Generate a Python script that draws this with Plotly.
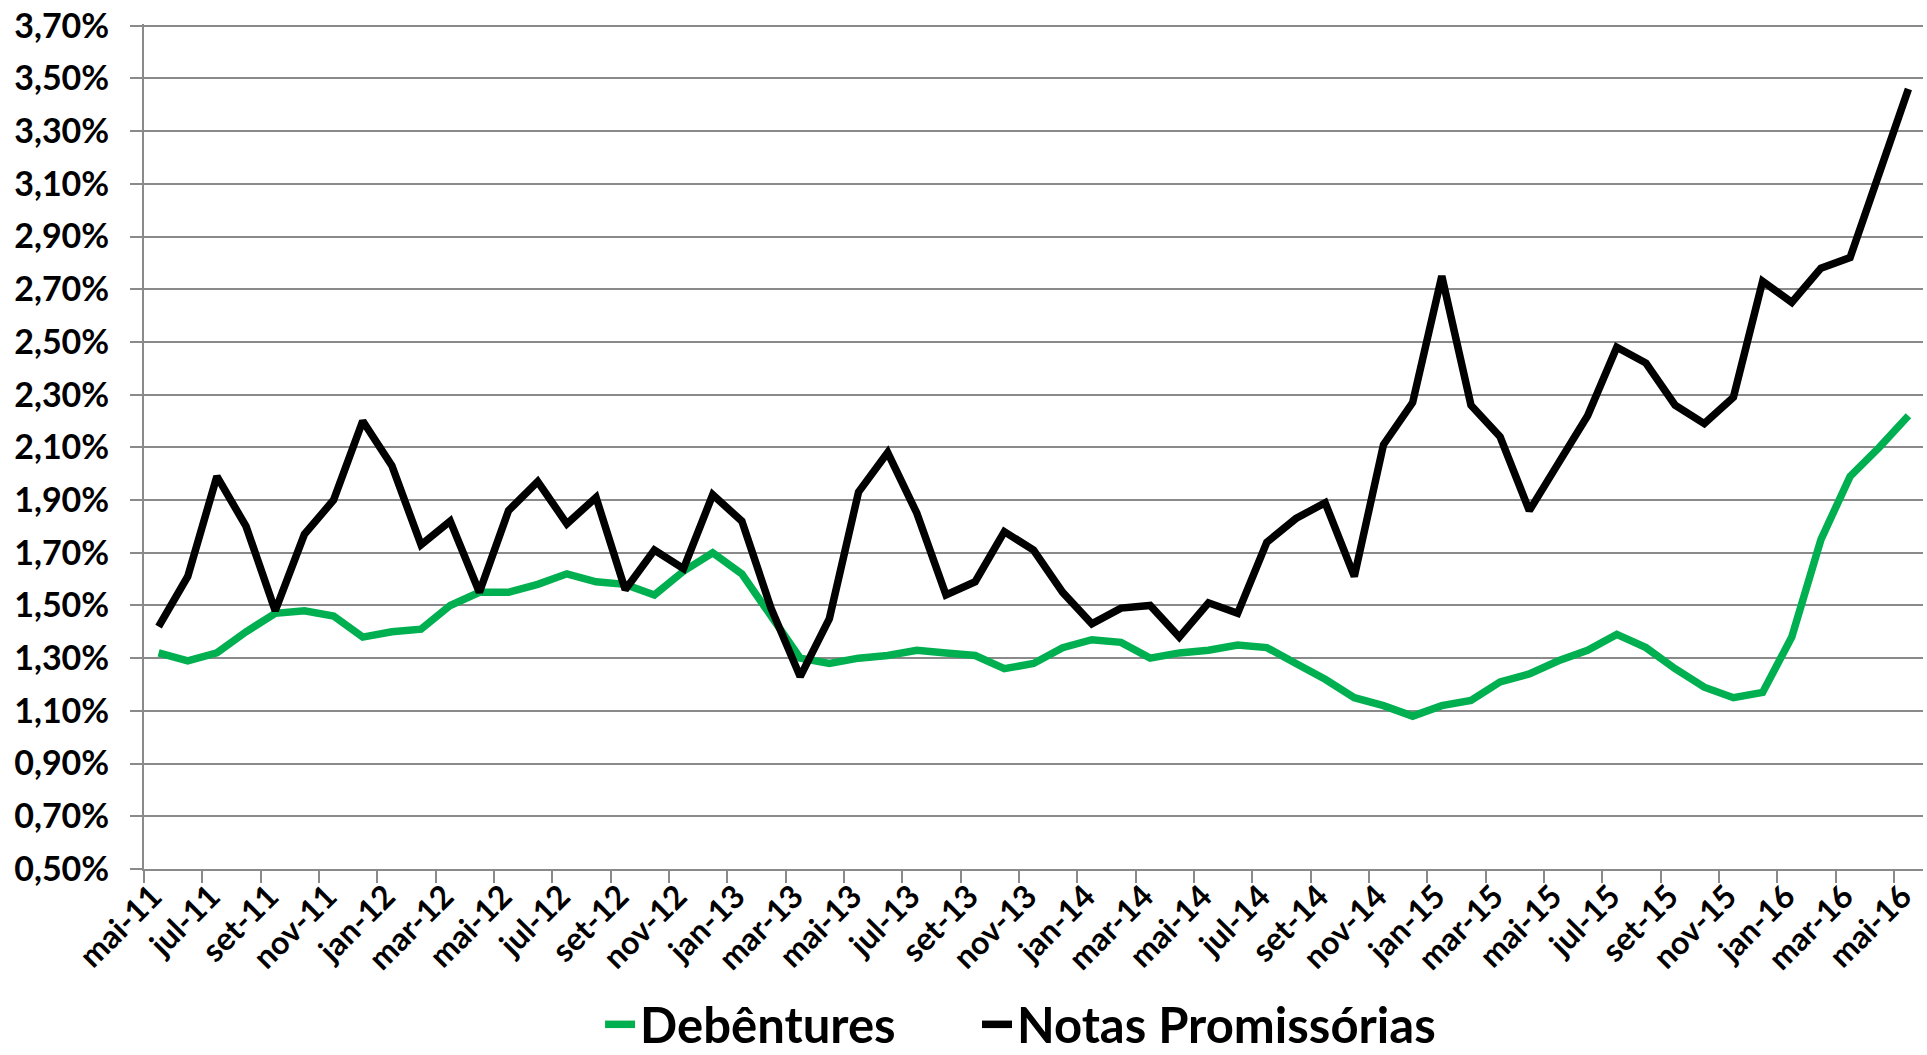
import plotly.graph_objects as go

months_pt = ["jan", "fev", "mar", "abr", "mai", "jun", "jul", "ago", "set", "out", "nov", "dez"]
categories = []
for k in range(61):
    m = (4 + k) % 12
    y = 11 + (4 + k) // 12
    categories.append(f"{months_pt[m]}-{y:02d}")

debentures = [1.32, 1.29, 1.32, 1.40, 1.47, 1.48, 1.46, 1.38, 1.40, 1.41,
              1.50, 1.55, 1.55, 1.58, 1.62, 1.59, 1.58, 1.54, 1.63, 1.70,
              1.62, 1.46, 1.30, 1.28, 1.30, 1.31, 1.33, 1.32, 1.31, 1.26,
              1.28, 1.34, 1.37, 1.36, 1.30, 1.32, 1.33, 1.35, 1.34, 1.28,
              1.22, 1.15, 1.12, 1.08, 1.12, 1.14, 1.21, 1.24, 1.29, 1.33,
              1.39, 1.34, 1.26, 1.19, 1.15, 1.17, 1.38, 1.75, 1.99, 2.10,
              2.22]

notas = [1.42, 1.61, 1.99, 1.80, 1.48, 1.77, 1.90, 2.20, 2.03, 1.73,
         1.82, 1.55, 1.86, 1.97, 1.81, 1.91, 1.56, 1.71, 1.64, 1.92,
         1.82, 1.49, 1.23, 1.45, 1.93, 2.08, 1.85, 1.54, 1.59, 1.78,
         1.71, 1.55, 1.43, 1.49, 1.50, 1.38, 1.51, 1.47, 1.74, 1.83,
         1.89, 1.61, 2.11, 2.27, 2.75, 2.26, 2.14, 1.86, 2.04, 2.22,
         2.48, 2.42, 2.26, 2.19, 2.29, 2.73, 2.65, 2.78, 2.82, 3.14,
         3.46]

y_ticks = [round(0.5 + 0.2 * k, 2) for k in range(17)]
y_ticktext = [f"{v:.2f}%".replace(".", ",") for v in y_ticks]

xs = list(range(len(categories)))
label_idx = xs[::2]
label_text = [categories[i] for i in label_idx]
boundary_ticks = [i - 0.5 for i in range(0, 62, 2)]

FONT = "Lato"
GRID = "#8a8a8a"
LEG_FONT = dict(family=FONT, size=49, color="black", weight="bold")

fig = go.Figure()
fig.add_trace(go.Scatter(x=xs, y=debentures, name="Debêntures", mode="lines",
                         line=dict(color="#00B050", width=7.5), legend="legend"))
fig.add_trace(go.Scatter(x=xs, y=notas, name="Notas Promissórias", mode="lines",
                         line=dict(color="#000000", width=7.5), legend="legend2"))

fig.update_layout(
    width=1927, height=1055,
    margin=dict(l=144, r=4, t=24, b=186, autoexpand=False),
    paper_bgcolor="white", plot_bgcolor="white",
    font=dict(family=FONT, color="black"),
    showlegend=True,
    legend=dict(orientation="h", x=0.3114, xanchor="left", xref="container",
                y=-0.184, yanchor="middle", yref="paper", font=LEG_FONT),
    legend2=dict(orientation="h", x=0.507, xanchor="left", xref="container",
                 y=-0.184, yanchor="middle", yref="paper", font=LEG_FONT),
)
fig.update_xaxes(
    range=[-0.5, 60.5], tickmode="array", tickvals=label_idx, ticktext=label_text,
    tickangle=-45, ticks="", showgrid=False, zeroline=False,
    showline=True, linecolor=GRID, linewidth=2,
    ticklabelshift=-6, ticklabelstandoff=-6, ticklabeloverflow="allow",
    tickfont=dict(family=FONT, size=32, color="black", weight="bold"),
    minor=dict(tickmode="array", tickvals=boundary_ticks, ticks="outside", ticklen=12,
               tickcolor=GRID, tickwidth=2, showgrid=False),
)
fig.update_yaxes(
    range=[0.5, 3.7064], tickmode="array", tickvals=y_ticks, ticktext=y_ticktext,
    ticks="outside", ticklen=12, tickcolor=GRID, tickwidth=2,
    showgrid=True, gridcolor=GRID, gridwidth=2, zeroline=False,
    showline=True, linecolor=GRID, linewidth=2,
    ticklabelstandoff=14, ticklabeloverflow="allow",
    tickfont=dict(family=FONT, size=34, color="black", weight="bold"),
)

fig.write_html(
    "out.html",
    config={"displayModeBar": False},
    post_script="document.body.style.margin='0';document.body.style.overflow='hidden';",
)
